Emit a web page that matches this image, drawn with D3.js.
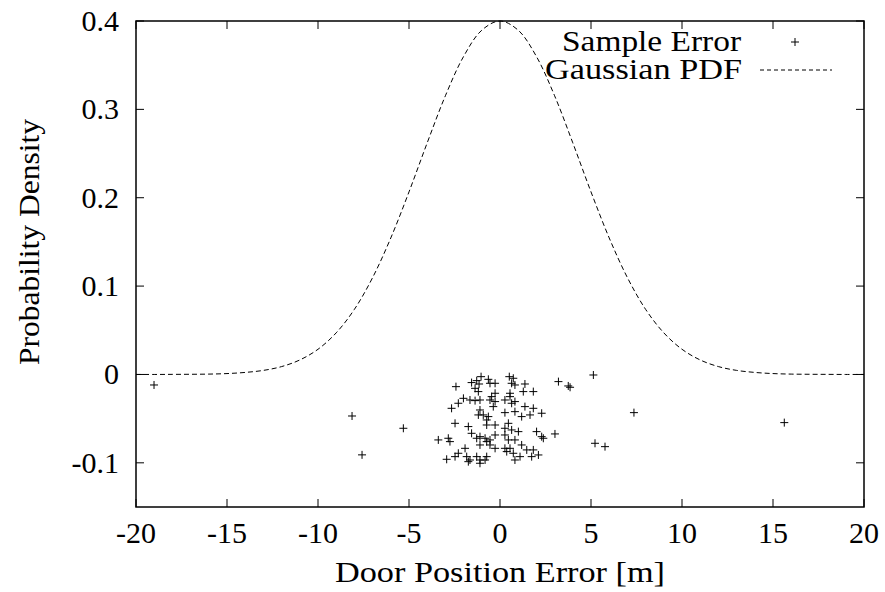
<!DOCTYPE html>
<html>
<head>
<meta charset="utf-8">
<script src="https://cdn.jsdelivr.net/npm/d3@7"></script>
</head>
<body style="margin:0;background:#fff">
<svg id="chart" width="885" height="592"></svg>
<script>
// ---- data ----
const xTicks = [-20, -15, -10, -5, 0, 5, 10, 15, 20];
const yTicks = [-0.1, 0, 0.1, 0.2, 0.3, 0.4];
const yTickLabels = ["-0.1", "0", "0.1", "0.2", "0.3", "0.4"];

// Gaussian PDF curve
const pdfX = [-20,-19,-18,-17,-16,-15,-14,-13,-12,-11,-10,-9,-8,-7,-6,-5,-4,-3,-2,-1,0,1,2,3,4,5,6,7,8,9,10,11,12,13,14,15,16,17,18,19,20];
const pdfY = [0,0,0.0001,0.0002,0.0004,0.0010,0.0023,0.0046,0.0089,0.0164,0.0285,0.0471,0.0737,0.1096,0.1545,0.2066,0.2621,0.3154,0.3599,0.3896,0.4000,0.3896,0.3599,0.3154,0.2621,0.2066,0.1545,0.1096,0.0737,0.0471,0.0285,0.0164,0.0089,0.0046,0.0023,0.0010,0.0004,0.0002,0.0001,0,0];

// Sample errors
const sampleX = [-19.01,-8.13,-7.58,-5.31,
 -2.42,-1.56,-1.28,-1.15,-1.04,-0.64,-0.55,-0.27,-1.37,-1.19,-0.27,-0.46,-2.01,-1.65,-1.37,-1.10,-0.55,-0.27,-2.29,-2.66,-0.37,
 -1.10,-1.19,-0.92,-0.64,-0.73,-2.47,-1.74,-0.73,-0.27,-1.56,-1.28,-1.10,-0.82,-0.73,-0.55,-0.27,-3.39,-2.84,-2.75,-0.55,-0.27,
 -1.10,-1.92,-2.29,-2.47,-1.83,-2.93,-1.65,-1.28,-1.10,-0.82,-0.73,-1.74,-1.10,
 0.51,0.73,0.64,1.37,0.82,1.83,1.28,0.55,0.55,0.27,0.82,0.64,1.37,1.83,0.27,0.82,1.19,1.65,2.29,0.46,0.27,0.64,1.01,2.01,2.29,
 2.38,3.02,0.27,0.46,0.82,1.19,0.55,0.27,0.37,0.73,1.47,1.83,1.10,1.74,2.11,0.82,3.21,3.75,3.85,5.13,5.22,5.77,7.36,15.62];
const sampleY = [-0.0119,-0.0470,-0.0910,-0.0609,
 -0.0138,-0.0092,-0.0070,-0.0108,-0.0025,-0.0055,-0.0100,-0.0100,-0.0157,-0.0194,-0.0213,-0.0251,-0.0270,-0.0289,-0.0296,-0.0289,-0.0289,-0.0307,-0.0326,-0.0383,-0.0364,
 -0.0402,-0.0458,-0.0458,-0.0477,-0.0515,-0.0553,-0.0590,-0.0572,-0.0572,-0.0666,-0.0722,-0.0704,-0.0722,-0.0760,-0.0741,-0.0685,-0.0741,-0.0722,-0.0760,-0.0798,-0.0836,
 -0.0798,-0.0836,-0.0892,-0.0930,-0.0930,-0.0960,-0.0968,-0.0930,-0.0968,-0.0968,-0.0930,-0.0987,-0.1005,
 -0.0025,-0.0043,-0.0100,-0.0108,-0.0119,-0.0194,-0.0194,-0.0213,-0.0251,-0.0289,-0.0307,-0.0326,-0.0364,-0.0383,-0.0432,-0.0421,-0.0477,-0.0458,-0.0439,-0.0553,-0.0609,-0.0628,-0.0647,-0.0647,-0.0704,
 -0.0722,-0.0673,-0.0685,-0.0741,-0.0741,-0.0798,-0.0836,-0.0836,-0.0873,-0.0892,-0.0854,-0.0854,-0.0930,-0.0930,-0.0911,-0.0968,-0.0081,-0.0130,-0.0145,-0.0006,-0.0779,-0.0817,-0.0432,-0.0545];

const xLabel = "Door Position Error [m]";
const yLabel = "Probability Density";
const legendLabels = ["Sample Error", "Gaussian PDF"];

// ---- layout ----
const FONT = "Liberation Serif";
const svg = d3.select("#chart");
const L = 136, R = 864, T = 21, B = 507;
const x = d3.scaleLinear().domain([-20, 20]).range([L, R]);
const y = d3.scaleLinear().domain([-0.15, 0.4]).range([B, T]);
const fs = 30;
const tickLen = 8;

function txt(g) {
  return g.append("text").attr("font-family", FONT).attr("font-size", fs).attr("fill", "#000");
}

// ticks (inward, mirrored)
const tg = svg.append("g").attr("stroke", "#000").attr("stroke-width", 1);
xTicks.forEach(v => {
  tg.append("line").attr("x1", x(v)).attr("x2", x(v)).attr("y1", B).attr("y2", B - tickLen);
  tg.append("line").attr("x1", x(v)).attr("x2", x(v)).attr("y1", T).attr("y2", T + tickLen);
});
yTicks.forEach(v => {
  tg.append("line").attr("x1", L).attr("x2", L + tickLen).attr("y1", y(v)).attr("y2", y(v));
  tg.append("line").attr("x1", R).attr("x2", R - tickLen).attr("y1", y(v)).attr("y2", y(v));
});

// tick labels
xTicks.forEach(v => {
  txt(svg).attr("x", x(v)).attr("y", 543).attr("text-anchor", "middle").text(String(v));
});
yTicks.forEach((v, i) => {
  txt(svg).attr("x", 119).attr("y", y(v) + 10).attr("text-anchor", "end").text(yTickLabels[i]);
});

// axis titles (stretched to the reference's wider lettering)
txt(svg).attr("x", x(0)).attr("y", 582).attr("text-anchor", "middle")
  .attr("textLength", 330).attr("lengthAdjust", "spacingAndGlyphs").text(xLabel);
txt(svg).attr("transform", "translate(39,242) rotate(-90)").attr("text-anchor", "middle")
  .attr("textLength", 246).attr("lengthAdjust", "spacingAndGlyphs").text(yLabel);

// gaussian curve
const pdfData = pdfX.map((v, i) => [v, pdfY[i]]);
const line = d3.line().x(d => x(d[0])).y(d => y(d[1])).curve(d3.curveCatmullRom);
svg.append("path").datum(pdfData).attr("d", line)
  .attr("fill", "none").attr("stroke", "#000").attr("stroke-width", 1)
  .attr("stroke-dasharray", "5,3");

// sample points
const ps = 4;
const pg = svg.append("g").attr("stroke", "#000").attr("stroke-width", 1);
sampleX.forEach((v, i) => {
  const cx = x(v), cy = y(sampleY[i]);
  pg.append("line").attr("x1", cx - ps).attr("x2", cx + ps).attr("y1", cy).attr("y2", cy);
  pg.append("line").attr("x1", cx).attr("x2", cx).attr("y1", cy - ps).attr("y2", cy + ps);
});

// frame
svg.append("rect").attr("x", L).attr("y", T).attr("width", R - L).attr("height", B - T)
  .attr("fill", "none").attr("stroke", "#000").attr("stroke-width", 1.5);

// legend
txt(svg).attr("x", 562).attr("y", 51).attr("textLength", 179).attr("lengthAdjust", "spacingAndGlyphs").text(legendLabels[0]);
txt(svg).attr("x", 545).attr("y", 79).attr("textLength", 197).attr("lengthAdjust", "spacingAndGlyphs").text(legendLabels[1]);
const lg = svg.append("g").attr("stroke", "#000").attr("stroke-width", 1);
lg.append("line").attr("x1", 795 - ps).attr("x2", 795 + ps).attr("y1", 42).attr("y2", 42);
lg.append("line").attr("x1", 795).attr("x2", 795).attr("y1", 42 - ps).attr("y2", 42 + ps);
lg.append("line").attr("x1", 760).attr("x2", 832).attr("y1", 70).attr("y2", 70).attr("stroke-dasharray", "4,3");
</script>
</body>
</html>
